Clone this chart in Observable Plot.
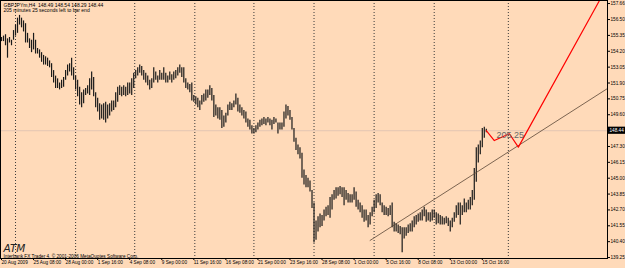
<!DOCTYPE html>
<html><head><meta charset="utf-8">
<script src="https://cdn.jsdelivr.net/npm/d3@7"></script>
<script src="https://cdn.jsdelivr.net/npm/@observablehq/plot@0.6"></script>
<style>
html,body{margin:0;padding:0;background:#FFDAB9;overflow:hidden;}
#chart svg{display:block;}
</style></head><body><div id="chart"></div>
<script>
// ---- data ----
const symbol = "GBPJPYm,H4";
const lastBarOHLC = [148.49, 148.54, 148.29, 148.44];
const timerText = "205 minutes 25 seconds left to bar end";
const brandText = "ATM";
const copyrightText = "Interbank FX Trader 4, \u00A9 2001-2006 MetaQuotes Software Corp.";

// H4 bars, index 0 = 20 Aug 2009 16:00
const highs = [
155.2,155.3,155.4,155.1,155.2,155.0,155.7,156.1,156.6,156.8,
156.6,156.4,156.2,155.5,155.1,155.0,155.5,155.0,154.4,154.3,
154.1,153.9,153.8,153.7,153.5,153.3,152.8,152.4,152.2,151.9,
152.1,152.3,152.8,153.2,153.3,153.7,153.0,152.4,152.1,151.6,
151.2,151.4,151.5,151.7,152.2,152.7,152.3,151.2,150.8,150.4,
150.3,150.4,150.5,150.3,150.4,150.6,150.6,151.2,151.6,151.7,
151.6,151.7,151.6,151.9,151.9,152.2,152.6,152.8,153.0,153.2,
153.1,152.8,152.6,152.4,152.1,152.2,153.0,152.7,152.4,152.8,
152.6,153.0,152.6,152.4,152.7,152.5,152.7,152.8,153.0,153.2,
153.0,153.0,152.2,151.9,151.8,151.9,151.0,150.9,150.8,150.6,
151.0,151.1,151.4,151.4,151.7,151.5,151.0,150.3,150.1,150.1,
149.9,149.5,149.7,150.3,150.5,150.4,150.6,151.1,150.8,150.3,
150.1,149.9,149.8,149.3,149.2,148.8,148.6,148.8,149.0,149.2,
149.3,149.4,149.3,149.4,149.3,149.2,149.4,149.3,149.0,149.0,
149.0,149.8,150.3,150.2,149.9,149.4,148.6,147.9,147.4,147.2,
146.8,145.6,145.2,145.0,144.8,144.1,143.2,141.9,142.2,142.4,
142.3,142.7,142.9,143.0,143.6,143.8,144.1,144.3,144.3,144.4,
144.3,144.3,144.1,143.9,143.8,143.8,144.3,144.0,143.4,143.2,
143.0,142.7,142.7,142.3,142.5,142.9,143.4,143.8,143.9,143.8,
143.2,143.0,142.9,142.8,143.0,143.2,141.8,141.7,141.6,141.5,
141.4,141.4,141.4,141.6,141.7,141.9,142.2,142.3,142.4,142.5,
142.7,142.9,142.7,142.5,142.5,142.7,142.7,142.5,142.4,142.3,
142.2,142.1,142.2,142.1,141.9,142.1,142.5,143.0,143.2,143.2,
143.0,143.5,143.2,143.4,143.6,144.1,145.7,147.2,147.4,147.7,
148.6,148.7,148.54
];
const lows = [
154.9,154.9,154.6,153.7,154.8,154.6,155.0,155.3,155.5,156.1,
155.9,155.6,154.8,154.8,154.4,154.1,154.3,154.0,154.0,153.7,
153.4,153.2,153.2,153.1,153.0,152.3,151.9,151.5,151.5,151.4,
151.5,151.6,152.1,152.4,152.7,152.4,152.1,151.4,150.9,150.3,
150.1,150.4,151.0,151.1,151.0,151.4,150.9,150.1,149.8,149.2,
149.3,149.2,149.0,149.3,149.5,149.8,149.9,150.1,150.5,151.0,
150.9,151.0,150.9,151.0,151.1,151.0,151.5,152.2,152.4,152.6,
152.4,152.1,151.9,151.7,151.4,151.5,151.9,152.1,151.9,152.1,
152.1,152.1,151.9,151.9,152.1,151.9,152.1,152.2,152.4,152.6,
152.3,151.9,151.5,151.4,151.2,150.6,150.5,150.3,150.1,149.9,
150.3,150.5,150.6,150.8,151.0,150.6,149.4,149.5,149.3,149.2,
148.6,148.7,149.0,149.5,149.9,149.9,150.1,150.3,149.8,149.7,
149.5,149.3,149.0,148.7,148.5,148.2,148.2,148.3,148.5,148.7,
148.8,148.9,148.8,149.0,148.8,148.5,148.9,149.0,148.2,148.5,
148.5,148.7,149.3,149.5,149.2,148.5,147.6,147.0,146.7,146.4,
145.0,144.5,144.3,144.3,144.0,142.8,140.3,140.5,141.1,141.4,
141.5,141.9,142.2,142.3,142.1,142.7,143.4,143.5,143.7,143.8,
143.6,143.0,143.4,143.2,143.2,143.2,143.4,142.9,142.7,142.5,
142.1,141.8,141.9,141.4,141.6,142.2,142.5,142.8,143.2,143.0,
142.5,142.3,142.3,142.2,142.3,141.4,141.1,141.1,141.0,140.9,
139.6,140.6,140.8,141.0,141.1,141.1,141.4,141.6,141.8,141.9,
141.9,142.2,141.8,141.9,141.8,141.9,142.1,141.6,141.7,141.6,
141.6,141.6,141.7,141.5,141.1,141.4,141.8,142.1,142.3,141.6,
142.3,142.5,142.5,142.7,142.7,143.0,143.4,144.7,146.1,146.7,
147.2,147.9,148.29
];

const xTickBars = [0,16,32,48,64,80,96,112,128,144,160,176,192,208,224,240];
const xTickLabels = ["20 Aug 2009","25 Aug 08:00","28 Aug 00:00","1 Sep 16:00","4 Sep 08:00","9 Sep 00:00","11 Sep 16:00","16 Sep 08:00","21 Sep 00:00","23 Sep 16:00","28 Sep 08:00","1 Oct 00:00","5 Oct 16:00","8 Oct 08:00","13 Oct 00:00","15 Oct 16:00"];
const yTicks = [157.66,156.50,155.35,154.20,153.05,151.90,150.75,149.60,147.30,146.15,145.00,143.85,142.70,141.55,140.40,139.25];
const gridBars = [7,37,66.5,96.5,126,156,186,216,253];

const trendBars = [184, 302.5];
const trendPrices = [140.49, 151.50];
const waveBars = [242, 246, 253.5, 258, 298.5];
const wavePrices = [148.44, 147.73, 148.22, 147.25, 157.88];
const waveLabel = "205.25";
const waveLabelBar = 254;
const waveLabelPrice = 148.10;

// ---- build ----
const bars = highs.map((h, i) => ({i, high: h, low: lows[i]}));
const trend = trendBars.map((b, k) => ({b, p: trendPrices[k]}));
const wave = waveBars.map((b, k) => ({b, p: wavePrices[k]}));
const bid = lastBarOHLC[3];
const small = 4.7;

const chart = Plot.plot({
  width: 625, height: 268,
  marginLeft: 0, marginRight: 18, marginTop: 0, marginBottom: 10,
  style: {background: "#FFDAB9", fontFamily: "'Liberation Sans', Arial, sans-serif", color: "#000", overflow: "visible"},
  x: {type: "linear", domain: [-0.5, 302.5]},
  y: {domain: [139.18, 157.88]},
  marks: [
    Plot.ruleX(gridBars, {x: d => d, stroke: "#3a3a3a", strokeDasharray: "1,2", strokeWidth: 1}),
    Plot.ruleY([bid], {stroke: "#e3c6b2", strokeWidth: 1}),
    Plot.ruleX(bars, {x: "i", y1: "low", y2: "high", stroke: "#1a1a1a", strokeWidth: 1.2}),
    Plot.line(trend, {x: "b", y: "p", stroke: "#5b4636", strokeWidth: 0.8}),
    Plot.line(wave, {x: "b", y: "p", stroke: "#ff0000", strokeWidth: 1.2, clip: true}),
    Plot.text([waveLabel], {x: waveLabelBar, y: waveLabelPrice, text: d => d, fill: "#666", fontSize: 9}),
    Plot.frame({stroke: "#000"}),
    Plot.axisY({anchor: "right", ticks: yTicks, tickFormat: d => d.toFixed(2), tickSize: 2, tickPadding: 1, fontSize: small, textAnchor: "start"}),
    Plot.axisX({ticks: xTickBars, tickFormat: d => xTickLabels[xTickBars.indexOf(d)], tickSize: 2, tickPadding: 0.5, fontSize: small, textAnchor: "start"}),
    Plot.rect([bid], {x1: 302.5, x2: 311.5, y1: d => d - 0.26, y2: d => d + 0.26, fill: "#000"}),
    Plot.text([bid], {x: 302.5, y: d => d, text: d => d.toFixed(2), dx: 2, textAnchor: "start", fill: "#fff", fontSize: small}),
    Plot.text([`${symbol}  ${lastBarOHLC.map(v => v.toFixed(2)).join(" ")}`], {frameAnchor: "top-left", text: d => d, dx: 3, dy: 2.5, lineAnchor: "top", textAnchor: "start", fontSize: small + 0.3, fill: "#000"}),
    Plot.text([timerText], {frameAnchor: "top-left", text: d => d, dx: 3, dy: 8, lineAnchor: "top", textAnchor: "start", fontSize: small + 0.3, fill: "#000"}),
    Plot.text([brandText], {frameAnchor: "bottom-left", text: d => d, dx: 3, dy: -7, lineAnchor: "bottom", textAnchor: "start", fontSize: 10.5, fontStyle: "italic", fontFamily: "'DejaVu Sans', sans-serif", fill: "#222"}),
    Plot.text([copyrightText], {frameAnchor: "bottom-left", text: d => d, dx: 3, dy: -1, lineAnchor: "bottom", textAnchor: "start", fontSize: small, fill: "#000"})
  ]
});
document.getElementById("chart").appendChild(chart);
</script>
</body></html>
